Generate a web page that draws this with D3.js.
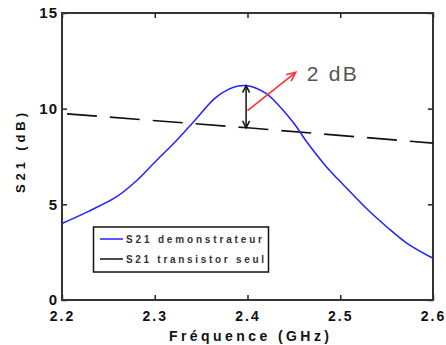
<!DOCTYPE html>
<html><head><meta charset="utf-8">
<script src="https://cdn.jsdelivr.net/npm/d3@7"></script>
<style>
body{margin:0;background:#fff;}
svg{display:block;font-family:"Liberation Sans",Arial,sans-serif;}
</style></head>
<body>
<script>
const freqDemo = [2.2, 2.228, 2.259, 2.28, 2.30, 2.324, 2.342, 2.365, 2.38, 2.39, 2.40, 2.42, 2.435, 2.45, 2.465, 2.485, 2.507, 2.53, 2.55, 2.572, 2.6];
const s21Demo  = [4.0, 4.62, 5.40, 6.22, 7.20, 8.36, 9.32, 10.55, 11.02, 11.18, 11.2, 10.8, 10.1, 9.24, 8.19, 6.97, 5.84, 4.70, 3.83, 2.96, 2.18];
const freqTrans = [2.2, 2.4, 2.6];
const s21Trans  = [9.75, 9.0, 8.2];
const xTicks = [2.2, 2.3, 2.4, 2.5, 2.6];
const xTickLabels = ["2.2", "2.3", "2.4", "2.5", "2.6"];
const yTicks = [0, 5, 10, 15];
const legendLabels = ["S21 demonstrateur", "S21 transistor seul"];
const annotation = "2 dB";

const W = 446, H = 345;
const m = {left: 62, top: 13, right: 433, bottom: 300};
const svg = d3.select("body").append("svg").attr("width", W).attr("height", H);
const x = d3.scaleLinear().domain([2.2, 2.6]).range([m.left, m.right]);
const y = d3.scaleLinear().domain([0, 15]).range([m.bottom, m.top]);

// axes
const xb = svg.append("g").attr("transform", `translate(0,${m.bottom})`)
  .call(d3.axisBottom(x).tickValues(xTicks).tickFormat((d,i)=>xTickLabels[i]).tickSizeInner(-5).tickSizeOuter(0).tickPadding(11));
const xt = svg.append("g").attr("transform", `translate(0,${m.top})`)
  .call(d3.axisTop(x).tickValues(xTicks).tickFormat("").tickSizeInner(-5).tickSizeOuter(0));
const yl = svg.append("g").attr("transform", `translate(${m.left},0)`)
  .call(d3.axisLeft(y).tickValues(yTicks).tickFormat(d3.format("d")).tickSizeInner(-5).tickSizeOuter(0).tickPadding(4));
const yr = svg.append("g").attr("transform", `translate(${m.right},0)`)
  .call(d3.axisRight(y).tickValues(yTicks).tickFormat("").tickSizeInner(-5).tickSizeOuter(0));
[xb, xt, yl, yr].forEach(g => {
  g.select(".domain").remove();
  g.selectAll(".tick line").attr("stroke", "#222").attr("stroke-width", 1.5);
});
xb.selectAll("text").attr("font-size", 14).attr("font-weight", "bold").attr("fill", "#111").attr("letter-spacing", "2px");
yl.selectAll("text").attr("font-size", 15).attr("font-weight", "bold").attr("fill", "#111").attr("letter-spacing", "1px");

// box
svg.append("rect").attr("x", m.left).attr("y", m.top).attr("width", m.right - m.left).attr("height", m.bottom - m.top)
  .attr("fill", "none").attr("stroke", "#333").attr("stroke-width", 2);

// lines
const demo = freqDemo.map((f,i)=>[f, s21Demo[i]]);
const trans = freqTrans.map((f,i)=>[f, s21Trans[i]]);
const line = d3.line().x(d=>x(d[0])).y(d=>y(d[1])).curve(d3.curveCatmullRom.alpha(0.5));
svg.append("path").datum(trans).attr("d", d3.line().x(d=>x(d[0])).y(d=>y(d[1])))
  .attr("fill","none").attr("stroke","#111").attr("stroke-width",1.6).attr("stroke-dasharray","30,13").attr("stroke-dashoffset", -5);
svg.append("path").datum(demo).attr("d", line)
  .attr("fill","none").attr("stroke","#2222ff").attr("stroke-width",1.5);

// arrows
function head(x1,y1,x2,y2,len,half,color,w){
  const a = Math.atan2(y2-y1, x2-x1);
  const p = (s)=>[x2 - len*Math.cos(a) + s*half*Math.sin(a), y2 - len*Math.sin(a) - s*half*Math.cos(a)];
  const [l1,l2] = [p(1), p(-1)];
  svg.append("path").attr("d", `M${l1[0]},${l1[1]}L${x2},${y2}L${l2[0]},${l2[1]}`)
    .attr("fill","none").attr("stroke",color).attr("stroke-width",w);
}
const ax = x(2.3985), ayTop = y(11.2), ayBot = y(9.0);
svg.append("line").attr("x1",ax).attr("x2",ax).attr("y1",ayTop).attr("y2",ayBot).attr("stroke","#111").attr("stroke-width",1.5);
head(ax, ayBot, ax, ayTop, 7, 3.5, "#111", 1.5);
head(ax, ayTop, ax, ayBot, 7, 3.5, "#111", 1.5);
const rx1 = x(2.4), ry1 = y(9.9), rx2 = x(2.452), ry2 = y(11.9);
svg.append("line").attr("x1",rx1).attr("y1",ry1).attr("x2",rx2).attr("y2",ry2).attr("stroke","#ff3030").attr("stroke-width",1.6);
head(rx1, ry1, rx2, ry2, 9, 4, "#ff3030", 1.6);
svg.append("text").attr("x", x(2.4638)).attr("y", y(11.46)).attr("font-size", 21).attr("fill", "#555")
  .attr("textLength", 50).attr("lengthAdjust","spacing").text(annotation);

// legend
const lg = svg.append("g");
lg.append("rect").attr("x",93.5).attr("y",227).attr("width",175).attr("height",45).attr("fill","#fff").attr("stroke","#111").attr("stroke-width",1.5);
const lcolors = ["#2222ff", "#111"];
const ly = [239, 259];
legendLabels.forEach((t,i)=>{
  lg.append("line").attr("x1",100).attr("x2",123).attr("y1",ly[i]).attr("y2",ly[i]).attr("stroke",lcolors[i]).attr("stroke-width",1.5);
  lg.append("text").attr("x",126).attr("y",ly[i]+3.5).attr("font-size",10).attr("font-weight","bold").attr("fill","#333")
    .attr("textLength", i===0?136:138).attr("lengthAdjust","spacing").text(t);
});

// axis titles
svg.append("text").attr("x", 249).attr("y", 341).attr("text-anchor","middle").attr("font-size",14).attr("font-weight","bold")
  .attr("fill","#111").attr("textLength",160).attr("lengthAdjust","spacing").text("Fréquence (GHz)");
svg.append("text").attr("transform","translate(25,153) rotate(-90)").attr("text-anchor","middle").attr("font-size",13).attr("font-weight","bold")
  .attr("fill","#111").attr("textLength",80).attr("lengthAdjust","spacing").text("S21 (dB)");
</script>
</body></html>
